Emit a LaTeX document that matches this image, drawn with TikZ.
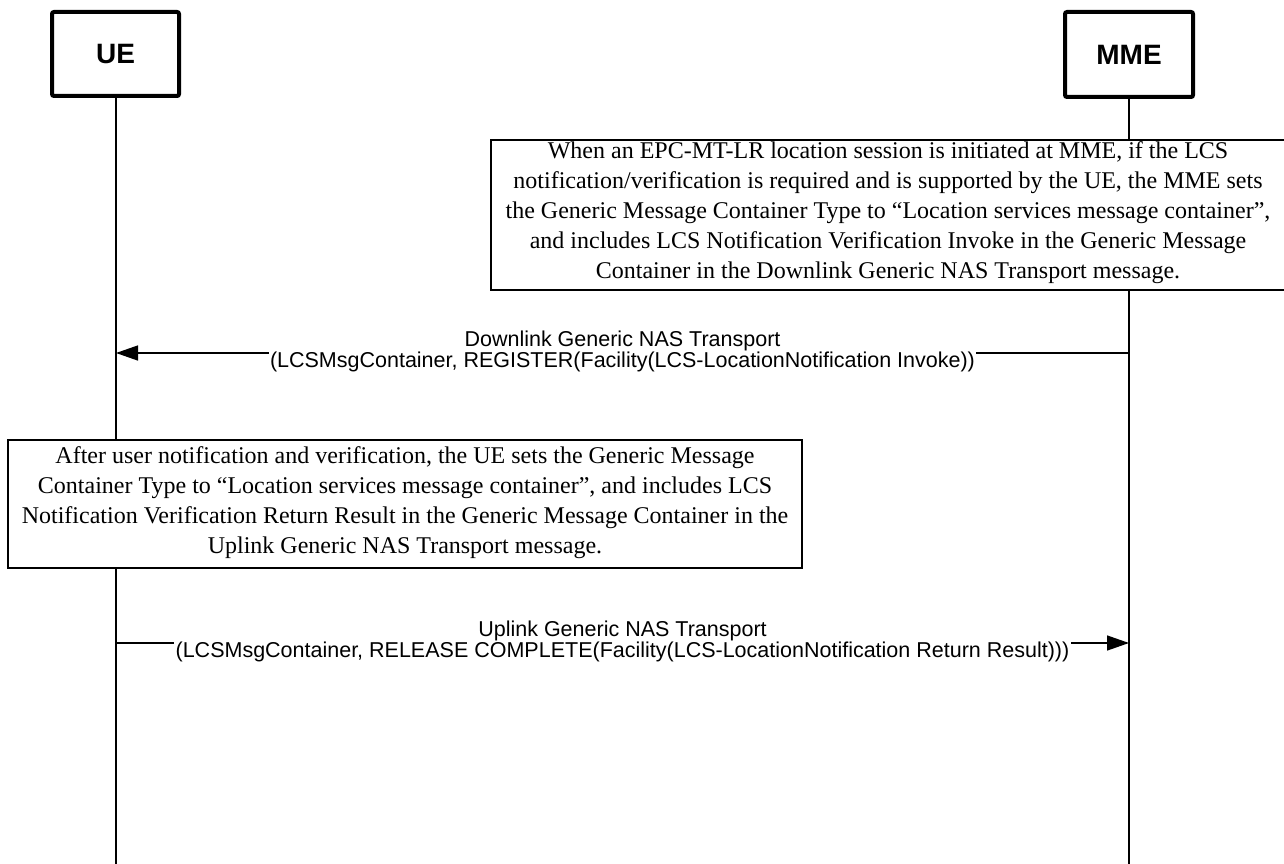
\documentclass[tikz,border=0pt]{standalone}
\usepackage{fontspec}
\setmainfont{Liberation Serif}
\setsansfont{Liberation Sans}
\usetikzlibrary{arrows.meta}
\begin{document}
\begin{tikzpicture}[x=1pt,y=-1pt,
  actor/.style={draw, line width=4pt, rounded corners=2pt, fill=white, inner sep=0pt,
    font=\sffamily\bfseries\fontsize{28}{30}\selectfont},
  life/.style={line width=1.2pt},
  notebox/.style={draw, line width=1.4pt, fill=white, inner sep=0pt},
  notetext/.style={font=\fontsize{24}{30}\selectfont, align=center, inner sep=0pt},
  msg/.style={line width=1.4pt, -{Triangle[length=22pt,width=15pt]}},
  msglabel/.style={font=\sffamily\fontsize{21.5}{20}\selectfont, align=center, fill=white, inner sep=1.5pt}
]
\useasboundingbox (0,0) rectangle (1284,864);

% actors
\node[actor, minimum width=127pt, minimum height=84pt] (ue) at (115.5,54) {UE};
\node[actor, minimum width=128pt, minimum height=85pt] (mme) at (1129,54.5) {MME};
\coordinate (ueend) at (116,866);
\coordinate (mmeend) at (1129,866);
\draw[life] (ue.south -| ueend) -- (ueend);
\draw[life] (mme.south) -- (mmeend);

% note 1
\node[notebox, minimum width=794pt, minimum height=150pt] (note1) at (888,215) {};
\node[notetext] (note1text) at (888,213) {When an EPC-MT-LR location session is initiated at MME, if the LCS\\
notification/verification is required and is supported by the UE, the MME sets\\
the Generic Message Container Type to “Location services message container”,\\
and includes LCS Notification Verification Invoke in the Generic Message\\
Container in the Downlink Generic NAS Transport message.};

% message 1
\coordinate (m1s) at (1129,353);
\coordinate (m1e) at (116,353);
\draw[msg] (m1s) -- node[msglabel, yshift=1.5pt] (m1label)
  {Downlink Generic NAS Transport\\(LCSMsgContainer, REGISTER(Facility(LCS-LocationNotification Invoke))} (m1e);

% note 2
\node[notebox, minimum width=794pt, minimum height=128pt] (note2) at (405,504) {};
\node[notetext] (note2text) at (405,502.5) {After user notification and verification, the UE sets the Generic Message\\
Container Type to “Location services message container”, and includes LCS\\
Notification Verification Return Result in the Generic Message Container in the\\
Uplink Generic NAS Transport message.};

% message 2
\coordinate (m2s) at (116,643);
\coordinate (m2e) at (1129,643);
\draw[msg] (m2s) -- node[msglabel, yshift=1.5pt] (m2label)
  {Uplink Generic NAS Transport\\(LCSMsgContainer, RELEASE COMPLETE(Facility(LCS-LocationNotification Return Result)))} (m2e);
\end{tikzpicture}
\end{document}
